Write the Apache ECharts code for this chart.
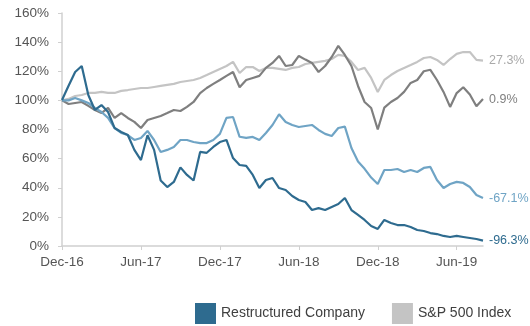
<!DOCTYPE html>
<html>
<head>
<meta charset="utf-8">
<script src="https://cdn.jsdelivr.net/npm/echarts@6/dist/echarts.min.js"></script>
<style>
  html, body { margin: 0; padding: 0; background: #ffffff; }
  #chart { width: 530px; height: 326px; }
</style>
</head>
<body>
<div id="chart"></div>
<script>
// Indexed total return (start = 100%), sampled every half month from Dec-16
const tickLabels = ['Dec-16', 'Jun-17', 'Dec-17', 'Jun-18', 'Dec-18', 'Jun-19'];
const monthsPerTick = 6;
const stepMonths = 0.5;

const restructured = [100.3, 110, 119.5, 123.6, 103.7, 93.4, 96.8, 92, 81, 78.3, 76.2, 66, 59, 76, 66, 45,
  40.5, 44, 54, 48.8, 45, 64.6, 64, 68, 71.4, 72.8, 60.4, 55.6, 55, 48.8, 39.8, 45.3,
  46.7, 39.8, 38.5, 34.3, 31.6, 30.2, 24.7, 26, 24.7, 26.8, 28.8, 33, 24.7, 21.3, 17.9, 13.7,
  11.7, 17.9, 15.8, 14.4, 14.4, 13, 11, 10.3, 8.9, 8.2, 6.9, 6.2, 6.9, 6.2, 5.5, 4.8, 3.7];

const peerCompany = [100, 100, 101.6, 100, 98.2, 94.8, 92, 88, 81, 77.6, 76.2, 72.8, 74.2, 79, 72.8, 64.6,
  66, 68, 72.8, 72.8, 71.4, 70.7, 70.7, 72.8, 77, 88, 88.6, 75, 74.2, 74.9, 72.8, 77.6,
  83.1, 90.5, 85.2, 83.1, 81.7, 82.4, 83.1, 79.7, 77, 75.5, 81, 82, 67.3, 58, 53, 47,
  42.6, 52.2, 52.2, 52.9, 50.8, 52.2, 50.8, 53.6, 54.3, 45.3, 39.8, 42.6, 44, 43.3, 40.5, 35, 32.9];

const peerIndex = [100, 97.5, 98.2, 98.9, 96.2, 93.4, 91.3, 94.8, 87.9, 91.3, 87.9, 85.2, 81, 86.5, 87.9, 89.3,
  91.3, 93.4, 92.7, 95.5, 98.9, 105, 108.5, 111.3, 114, 116.8, 119.5, 109, 114, 115.4, 116.8, 122.3,
  125.7, 130.5, 123.6, 124.3, 130.5, 128, 125.7, 119.5, 123.6, 129.8, 137.4, 131.2, 123.6, 109.9, 98.9, 94.8,
  80, 95, 98.9, 101.6, 105.8, 112, 114, 120, 121, 114, 105.8, 95.5, 105, 109, 104, 96, 100.9];

const sp500 = [100, 101, 103, 103.7, 105.1, 105.1, 105.8, 105.1, 105.1, 106.5, 107.1, 107.8, 108.5, 108.5, 109.2, 109.9,
  110.6, 111.3, 112.6, 113.3, 114, 115.4, 117.4, 119.5, 121.6, 123.6, 126.4, 118.8, 122.9, 122.9, 120.2, 122.3,
  122.3, 121.6, 120.9, 122.3, 122.9, 125, 125.7, 126.4, 127.1, 128.4, 131.2, 130.5, 126.4, 120.9, 122.3, 115.4,
  105.8, 114, 117.4, 120.2, 122.3, 124.3, 126.4, 129.1, 129.8, 127.8, 124.3, 128.4, 131.9, 133.2, 133.2, 127.8, 127.3];

const seriesNames = ['Restructured Company', 'Peer Company', 'Peer Index', 'S&P 500 Index'];
const seriesColors = ['#2e6b8f', '#6fa4c5', '#7f7f7f', '#c4c4c4'];
const labelColors = ['#2e6b8f', '#6fa4c5', '#808080', '#aaaaaa'];
const seriesValues = [restructured, peerCompany, peerIndex, sp500];

const FONT = 'Liberation Sans, Arial, sans-serif';

function toPoints(values) {
  return values.map((v, i) => [i * stepMonths, v]);
}

function pctChange(values) {
  const r = values[values.length - 1] - 100;
  return r.toFixed(1) + '%';
}

const chart = echarts.init(document.getElementById('chart'), null, { renderer: 'canvas' });

// lighter series underneath, the company's own line on top
const drawOrder = [3, 2, 1, 0];
const series = drawOrder.map(idx => ({
  name: seriesNames[idx],
  type: 'line',
  data: toPoints(seriesValues[idx]),
  showSymbol: false,
  symbol: 'none',
  smooth: false,
  animation: false,
  lineStyle: { color: seriesColors[idx], width: 2.2 },
  itemStyle: { color: seriesColors[idx] },
  endLabel: {
    show: true,
    formatter: () => pctChange(seriesValues[idx]),
    color: labelColors[idx],
    fontFamily: FONT,
    fontSize: 12.5,
    distance: 6
  }
}));

chart.setOption({
  animation: false,
  backgroundColor: '#ffffff',
  grid: { left: 62, right: 47, top: 13, bottom: 80, containLabel: false },
  legend: {
    data: [
      { name: 'Restructured Company', icon: 'rect' },
      { name: 'S&P 500 Index', icon: 'rect' }
    ],
    left: 190,
    top: 298,
    itemWidth: 21,
    itemHeight: 21,
    itemGap: 27,
    textStyle: { color: '#404040', fontSize: 14, fontFamily: FONT }
  },
  xAxis: {
    type: 'value',
    min: 0,
    max: 32,
    interval: monthsPerTick,
    axisLine: { show: true, lineStyle: { color: '#d0d0d0', width: 1.5 } },
    axisTick: { show: true, length: 4, lineStyle: { color: '#d0d0d0' } },
    splitLine: { show: false },
    axisLabel: {
      showMaxLabel: false,
      margin: 9,
      color: '#555555',
      fontSize: 13.5,
      fontFamily: FONT,
      formatter: v => tickLabels[Math.round(v / monthsPerTick)] || ''
    }
  },
  yAxis: {
    type: 'value',
    min: 0,
    max: 160,
    interval: 20,
    axisLine: { show: true, lineStyle: { color: '#d0d0d0', width: 1.5 } },
    axisTick: { show: true, length: 4, lineStyle: { color: '#d0d0d0' } },
    splitLine: { show: false },
    axisLabel: {
      margin: 13,
      color: '#555555',
      fontSize: 13.5,
      fontFamily: FONT,
      formatter: v => v + '%'
    }
  },
  series: series
});
</script>
</body>
</html>
